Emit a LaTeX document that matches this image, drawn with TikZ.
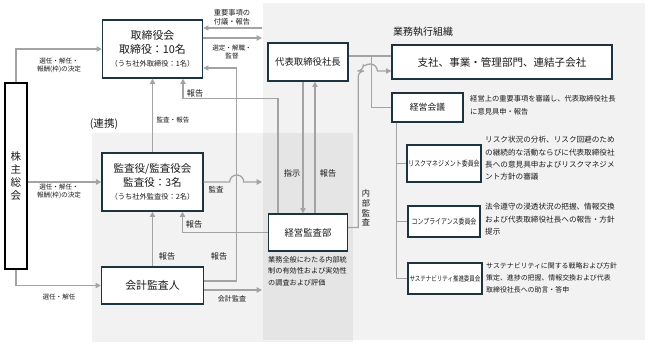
\documentclass[tikz,border=0pt]{standalone}
\usepackage{fontspec}
\setmainfont{Noto Sans CJK JP}
\newfontfamily\narrowjp[FakeStretch=0.78]{Noto Sans CJK JP}
\usepackage{xcolor}
\usetikzlibrary{arrows.meta,positioning,calc}

\definecolor{boxline}{HTML}{1B3440}
\definecolor{conn}{HTML}{A3A3A3}
\definecolor{panel}{HTML}{F2F2F2}
\definecolor{panelmix}{HTML}{E5E5E5}
\definecolor{txt}{HTML}{1A1A1A}

\newcommand{\fs}[2]{\fontsize{#1}{#2}\selectfont}

\begin{document}
\begin{tikzpicture}[
    x=0.03cm, y=-0.03cm,
    dims/.style 2 args={minimum width=#1*0.03cm, minimum height=#2*0.03cm},
    org/.style={
        rectangle, draw=boxline, line width=1.2pt, fill=white,
        align=center, text=txt, inner sep=1pt
    },
    committee/.style={org, font=\narrowjp\fs{6.5}{7.5}},
    desc/.style={font=\fs{6.5}{10.6}, text=txt, align=left, anchor=north west, inner sep=0pt},
    lbl/.style={font=\fs{5.6}{6.8}, text=txt, align=center, inner sep=0pt},
    lblb/.style={lbl, font=\fs{7}{8}},
    conline/.style={conn, line width=1.1pt},
    arr/.style={conline, -{Triangle[length=4.5pt,width=4.5pt]}}
]
\useasboundingbox (0,0) rectangle (648,345);

% Panels
\fill[panel] (263,3) rectangle (645,340);
\fill[panel] (92,133) rectangle (353,342);
\fill[panelmix] (263,133) rectangle (353,340);
\coordinate (exL) at (262,0);

% Left column
\node[org, draw=black, dims={22}{186}, font=\fs{9}{11}] (sh) at (16,176) {株\\主\\総\\会};
\node[org, dims={100}{58}, font=\fs{9.3}{12}] (tori) at (152.5,49)
    {取締役会\\取締役：10名\\[-1pt]{\fs{6.2}{7.5}（うち社外取締役：1名）}};
\node[org, dims={101}{58}, font=\fs{9}{12}] (kansa) at (152.5,182)
    {監査役/監査役会\\監査役：3名\\[-1pt]{\fs{6.2}{7.5}（うち社外監査役：2名）}};
\node[org, dims={102}{37}, font=\fs{9.3}{11}] (kaikei) at (152.5,285.5) {会計監査人};
\node[font=\fs{9}{11}, text=txt, inner sep=0pt] (renkei) at (104,124) {(連携)};

% Middle column
\node[org, dims={80}{38}, font=\fs{8}{10}] (ceo) at (308,62) {代表取締役社長};
\node[org, dims={79}{37}, font=\fs{8}{10}] (audit) at (308,232.5) {経営監査部};
\node[desc, font=\fs{6.1}{10}] (audittxt) at (268,256)
    {業務全般にわたる内部統\\制の有効性および実効性\\の調査および評価};

% Executive organisation
\node[font=\fs{8.5}{10}, text=txt, anchor=west, inner sep=0pt] (exectitle) at (393,32) {業務執行組織};
\node[org, dims={220}{34}, font=\fs{9}{11}] (biz) at (502,62) {支社、事業・管理部門、連結子会社};
\node[org, dims={71}{29}, font=\fs{7.5}{9}] (mtg) at (427.5,107.5) {経営会議};
\node[desc, font=\fs{6.2}{11.5}] (mtgtxt) at (470,95)
    {経営上の重要事項を審議し、代表取締役社長\\に意見具申・報告};
\node[committee, dims={72}{37}] (risk) at (444,163.5) {リスクマネジメント委員会};
\node[desc] (risktxt) at (485,136)
    {リスク状況の分析、リスク回避のため\\の継続的な活動ならびに代表取締役社\\長への意見具申およびリスクマネジメ\\ント方針の審議};
\node[committee, dims={72}{31}] (comp) at (444,221.5) {コンプライアンス委員会};
\node[desc] (comptxt) at (485,203)
    {法令遵守の浸透状況の把握、情報交換\\および代表取締役社長への報告・方針\\提示};
\node[committee, dims={74}{31}, font=\narrowjp\fs{6}{7}] (sus) at (445,278.5) {サステナビリティ推進委員会};
\node[desc, font=\fs{5.9}{10.6}] (sustxt) at (486,262)
    {サステナビリティに関する戦略および方針\\策定、進捗の把握、情報交換および代表\\取締役社長への助言・答申};

% Labels
\node[lbl, font=\fs{6.2}{7.5}] (lblA) at (232,17) {重要事項の\\付議・報告};
\node[lbl] (lblB) at (232,52) {選定・解職・\\監督};
\node[lbl] (lblC) at (59,65) {選任・解任・\\報酬(枠)の決定};
\node[lbl] (lblD) at (59,191) {選任・解任・\\報酬(枠)の決定};
\node[lbl] (lblE) at (59,297) {選任・解任};
\node[lbl] (lblF) at (173,120) {監査・報告};
\node[lblb] (lblG) at (195,93) {報告};
\node[lblb] (lblH) at (219,256) {報告};
\node[lblb] (lblI) at (167,256) {報告};
\node[lblb] (lblJ) at (194,224) {報告};
\node[lbl, font=\fs{6.4}{7.5}] (lblK) at (216,190) {監査};
\node[lbl, font=\fs{6}{7}] (lblL) at (232,299) {会計監査};
\node[lblb] (lblM) at (292,173) {指示};
\node[lblb] (lblN) at (328,173) {報告};
\node[lbl, font=\fs{7}{8.2}] (lblO) at (366,208) {内\\部\\監\\査};

% Shareholders
\draw[arr] (sh.north) |- (tori.west);
\draw[arr] (sh.east |- kansa.west) -- (kansa.west);
\draw[arr] (sh.south) |- (kaikei.west);

% Board and executive side
\draw[arr] ($(tori.east -| exL)+(0,-21)$) -- ($(tori.east)+(0,-21)$);
\draw[arr] ($(tori.east)+(0,-11)$) -- ($(tori.east -| exL)+(0,-11)$);
\draw[arr] (kansa.north) -- (tori.south);
\draw[arr] ($(audit.north)+(-30,0)$) |- ($(tori.south)+(30.5,20)$) -- ($(tori.south)+(30.5,0)$);
\draw[arr] ($(kaikei.east)+(0,-4.5)$) -| ($(tori.east)+(33.5,19)$) -- ($(tori.east)+(0,19)$);

% Auditors
\draw[arr] (kaikei.north) -- (kansa.south);
\draw[arr] (audit.west) -| ($(kansa.south)+(30,0)$);
\draw[arr] (kansa.east) -- ($(kansa.east)+(26,0)$) arc[start angle=180,end angle=0,radius=6pt] -- (kansa.east -| exL);
\draw[arr] ($(kaikei.east)+(0,4.5)$) -- ($(kaikei.east -| exL)+(0,4.5)$);

% President and audit department
\draw[arr] ($(ceo.south)+(-5,0)$) -- ($(audit.north)+(-5,0)$);
\draw[arr] ($(audit.north)+(7,0)$) -- ($(ceo.south)+(7,0)$);
\draw[conline] ($(ceo.east)+(0,-6)$) -- ($(ceo.east -| biz.west)+(0,-6)$);
\draw[conline] ($(ceo.east)+(23,-6)$) |- (mtg.west);
\draw[arr] ($(audit.east)+(0,-5)$) -- ++(10,0) [rounded corners=5pt] |- ($(biz.west)+(-28,9)$)
    [sharp corners] arc[start angle=180,end angle=0,radius=6pt] -- ($(biz.west)+(0,9)$);

% Committees
\coordinate (treetop) at ($(mtg.south west)+(5,0)$);
\draw[conline] (treetop) |- (sus.west);
\draw[conline] (treetop |- risk.west) -- (risk.west);
\draw[conline] (treetop |- comp.west) -- (comp.west);

\end{tikzpicture}
\end{document}
